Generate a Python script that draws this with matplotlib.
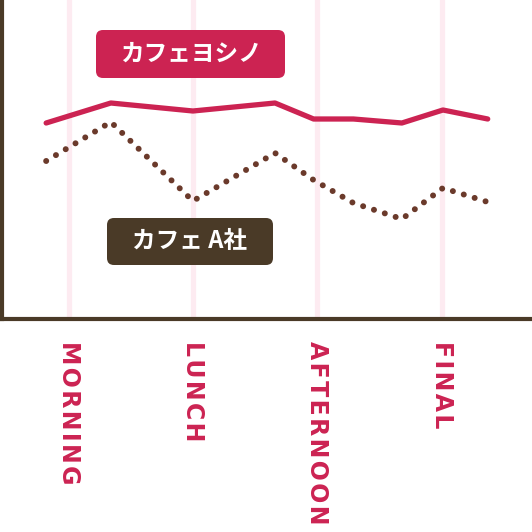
import matplotlib
matplotlib.use("Agg")
import matplotlib.pyplot as plt
from matplotlib.patches import FancyBboxPatch

# ---- data ----
categories = ["MORNING", "LUNCH", "AFTERNOON", "FINAL"]
x_points = [-0.18, 0.34, 1.0, 1.66, 1.97, 2.29, 2.68, 3.01, 3.37]
yoshino = [196, 216, 208, 216, 200, 200, 196, 209, 200]
company_a = [158, 197, 118, 166, 139, 116, 100, 131, 117]
series_names = ["カフェヨシノ", "カフェ A社"]

RED = "#cc2352"
BROWN_DOT = "#6b3a2b"
DARK = "#4a3a27"
GRID = "#fdebf1"

fig = plt.figure(figsize=(5.32, 5.32), dpi=100)
ax = fig.add_axes([2 / 532, (532 - 319) / 532, 1 - 2 / 532, 319 / 532])
ax.set_xlim(-0.535, 3.726)
ax.set_ylim(0, 319)

# gridlines at categories
ax.set_xticks(range(len(categories)))
ax.grid(axis="x", color=GRID, linewidth=3.8, zorder=0)
ax.set_yticks([])

ax.plot(x_points, yoshino, color=RED, linewidth=3.8,
        solid_capstyle="round", solid_joinstyle="round", zorder=3)
ax.plot(x_points, company_a, color=BROWN_DOT, linewidth=4.3,
        linestyle=(0, (0.01, 1.9)), dash_capstyle="round", zorder=3)

for s in ["top", "right"]:
    ax.spines[s].set_visible(False)
for s in ["left", "bottom"]:
    ax.spines[s].set_color(DARK)
    ax.spines[s].set_linewidth(3.0)

spaced = ["\u200a".join(c) for c in categories]
ax.set_xticklabels(spaced, rotation=270, color=RED, fontsize=17,
                   fontweight="bold", family=["DejaVu Sans"], va="top", ha="center")
ax.tick_params(axis="x", length=0, pad=16)

# label boxes (figure coords, square figure -> isotropic rounding)
def label_box(x0, y0, x1, y1, color, text):
    p = FancyBboxPatch((x0, y0), x1 - x0, y1 - y0,
                       boxstyle="round,pad=0,rounding_size=0.013",
                       transform=fig.transFigure, facecolor=color,
                       edgecolor="none", zorder=5)
    fig.patches.append(p)
    fig.text((x0 + x1) / 2, (y0 + y1) / 2, text, color="white",
             fontsize=17, fontweight="bold",
             family=["Noto Sans CJK JP", "DejaVu Sans"],
             ha="center", va="center", zorder=6)

label_box(96 / 532, (532 - 78) / 532, 285 / 532, (532 - 30) / 532, RED, series_names[0])
label_box(107 / 532, (532 - 265) / 532, 273 / 532, (532 - 218) / 532, DARK, series_names[1])

fig.savefig("out.png", dpi=100)
